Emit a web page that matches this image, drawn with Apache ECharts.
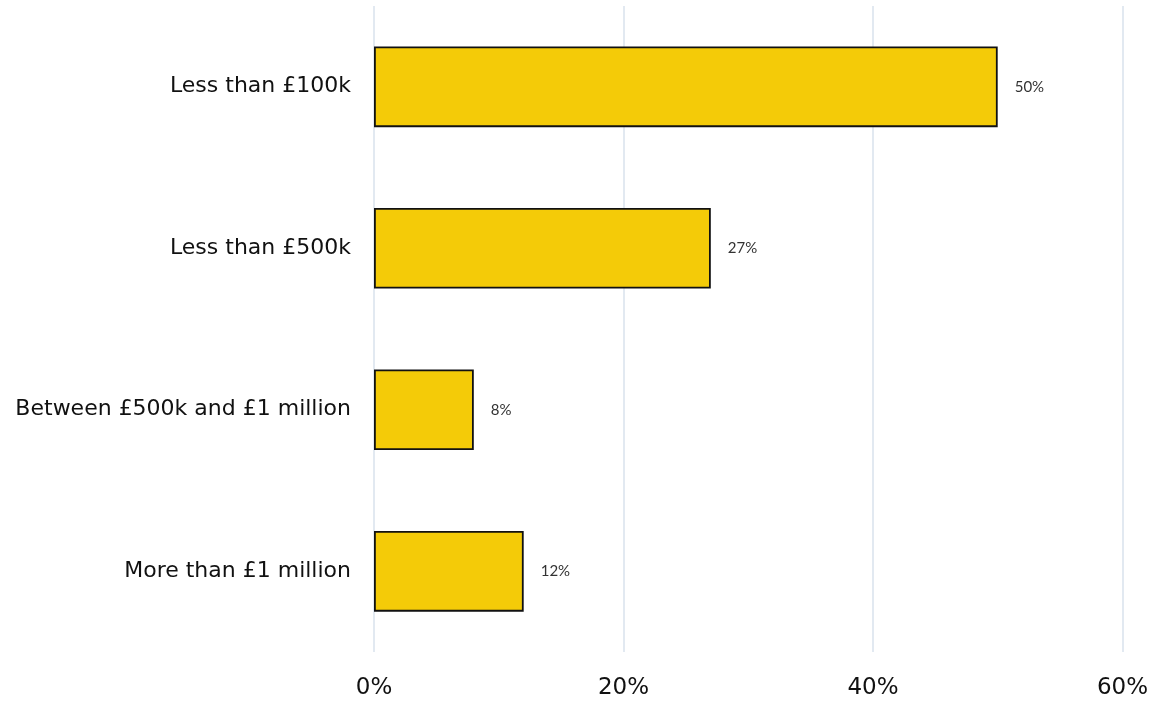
<!DOCTYPE html>
<html>
<head>
<meta charset="utf-8">
<script src="https://cdn.jsdelivr.net/npm/echarts@6/dist/echarts.min.js"></script>
<style>
  html, body { margin: 0; padding: 0; background: #ffffff; }
  #chart { width: 1151px; height: 701px; }
</style>
</head>
<body>
<div id="chart"></div>
<script>
// Company turnover bands and share of respondents (%)
const categories = ['Less than £100k', 'Less than £500k', 'Between £500k and £1 million', 'More than £1 million'];
const shares = [50, 27, 8, 12];
const xTicks = [0, 20, 40, 60];

const chart = echarts.init(document.getElementById('chart'), null, { renderer: 'canvas' });

chart.setOption({
  animation: false,
  backgroundColor: '#ffffff',
  grid: { left: 374, right: 28, top: 6, bottom: 49, containLabel: false },
  xAxis: {
    type: 'value',
    min: xTicks[0],
    max: xTicks[xTicks.length - 1],
    interval: 20,
    axisLine: { show: false },
    axisTick: { show: false },
    splitLine: { show: true, lineStyle: { color: '#d9e2ec', width: 1.5 } },
    axisLabel: {
      formatter: v => v + '%',
      color: '#111111',
      fontFamily: 'DejaVu Sans',
      fontSize: 23,
      margin: 25
    }
  },
  yAxis: {
    type: 'category',
    data: categories,
    inverse: true,
    axisLine: { show: false },
    axisTick: { show: false },
    splitLine: { show: false },
    axisLabel: {
      color: '#111111',
      fontFamily: 'DejaVu Sans',
      fontSize: 22,
      margin: 23
    }
  },
  series: [{
    type: 'bar',
    data: shares,
    barCategoryGap: '50%',
    itemStyle: { color: '#f4cb08', borderColor: '#111111', borderWidth: 1.8 },
    label: {
      show: true,
      position: 'right',
      distance: 17,
      formatter: p => p.value + '%',
      color: '#333333',
      fontFamily: 'Lato',
      fontSize: 15
    }
  }]
});
</script>
</body>
</html>
